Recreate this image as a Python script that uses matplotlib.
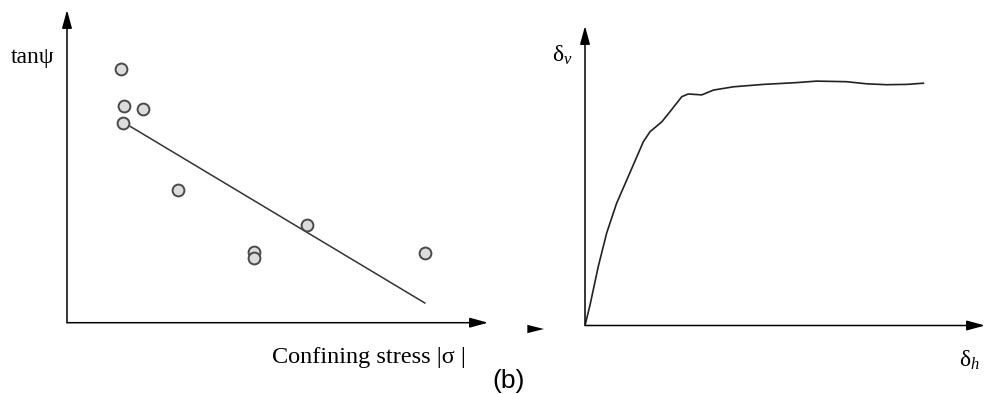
import numpy as np
import matplotlib
matplotlib.use("Agg")
import matplotlib.pyplot as plt

plt.rcParams["font.family"] = ["Liberation Serif", "DejaVu Serif"]
plt.rcParams["mathtext.fontset"] = "custom"
plt.rcParams["mathtext.rm"] = "Liberation Serif"
plt.rcParams["mathtext.it"] = "Liberation Serif:italic"

# (a) dilation angle vs confining stress: measured points and fitted trend
stress = [12.8, 13.5, 18.1, 13.3, 26.4, 57.0, 44.5, 44.5, 85.1]
tan_psi = [81.0, 69.3, 68.4, 64.0, 42.3, 31.2, 22.5, 20.6, 22.3]
fit_x = [14.5, 85.0]
fit_y = [63.2, 6.3]

# (b) vertical vs horizontal displacement
delta_h = [0.0, 1.25, 3.3, 5.4, 7.9, 10.8, 14.6, 16.25, 19.2, 21.25, 24.2, 25.8,
           29.2, 32.1, 37.1, 44.6, 52.9, 57.9, 65.4, 70.4, 75.4, 80.4, 84.6]
delta_v = [0.0, 6.8, 19.6, 30.8, 40.8, 49.7, 61.4, 64.7, 68.0, 71.4, 76.4, 77.3,
           77.0, 78.6, 79.7, 80.5, 81.1, 81.6, 81.4, 80.7, 80.4, 80.5, 80.9]

W, H = 985, 394
fig = plt.figure(figsize=(W / 100, H / 100), dpi=100)


def frac(x, y):
    return x / W, 1 - y / H


def arrow_axes(ax):
    style = dict(arrowstyle="-|>,head_length=1.1,head_width=0.3",
                 mutation_scale=10, color="black", lw=1.1,
                 shrinkA=0, shrinkB=0)
    ax.annotate("", xy=(1, 0), xytext=(0, 0), xycoords="axes fraction",
                arrowprops=style, annotation_clip=False)
    ax.annotate("", xy=(0, 1), xytext=(0, 0), xycoords="axes fraction",
                arrowprops=style, annotation_clip=False)
    for s in ax.spines.values():
        s.set_visible(False)
    ax.set_xticks([])
    ax.set_yticks([])
    ax.set_xlim(0, 100)
    ax.set_ylim(0, 100)
    ax.patch.set_alpha(0)


# left panel
x0, y0 = frac(67, 322.7)
ax1 = fig.add_axes([x0, y0, 421 / W, 312.7 / H])
arrow_axes(ax1)
ax1.plot(fit_x, fit_y, color="#333333", lw=1.1)
ax1.plot(stress, tan_psi, "o", ms=8.5, mfc="#dcdcdc", mec="#4a4a4a", mew=1.4,
         clip_on=False, zorder=3)

# right panel
x0, y0 = frac(585, 325.5)
ax2 = fig.add_axes([x0, y0, 400 / W, 299.5 / H])
arrow_axes(ax2)
ax2.plot(delta_h, delta_v, color="#222222", lw=1.2, solid_joinstyle="round")

# stray arrowhead between the panels
fig.patches.append(matplotlib.patches.FancyArrowPatch(
    frac(532, 329), frac(544, 329), transform=fig.transFigure,
    arrowstyle="-|>,head_length=1.2,head_width=0.3", mutation_scale=10,
    color="black", lw=0, shrinkA=0, shrinkB=0))

# labels
fig.text(*frac(11, 57), "tanψ", fontsize=17, va="center", ha="left")
fig.text(*frac(272, 357), "Confining stress |σ |", fontsize=17.5,
         va="center", ha="left")
fig.text(*frac(552, 55), "δ$_v$", fontsize=17, va="center", ha="left")
fig.text(*frac(959, 360), "δ$_h$", fontsize=17, va="center", ha="left")
fig.text(*frac(509, 381), "(b)", fontsize=19, va="center", ha="center",
         family="Liberation Sans")

fig.savefig("out.png", dpi=100)
